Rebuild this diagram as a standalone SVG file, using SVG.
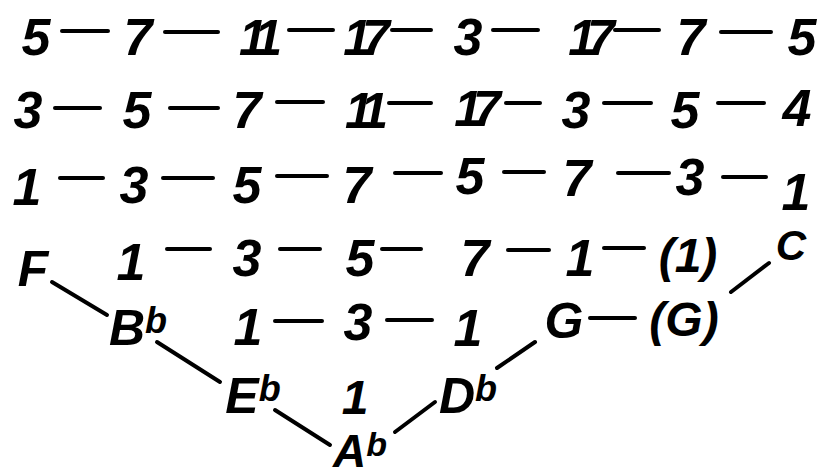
<svg xmlns="http://www.w3.org/2000/svg" width="822" height="476" viewBox="0 0 822 476">
<style>
text{font-family:"Liberation Sans","DejaVu Sans",sans-serif;font-weight:bold;font-style:italic;font-size:52px;fill:#000;text-anchor:middle}
.two{letter-spacing:-9px;font-size:50px}
.let{font-size:50px}
.sup{font-size:36px}
.par{font-size:48px}
line{stroke:#000;stroke-width:4;stroke-linecap:round}
</style>
<rect width="822" height="476" fill="#fff"/>
<g id="connectors">
<line x1="62" y1="31" x2="108" y2="31"/><line x1="165" y1="32" x2="218" y2="32"/><line x1="289" y1="30" x2="333" y2="30"/><line x1="392" y1="30" x2="431" y2="30"/><line x1="493" y1="30" x2="538" y2="30"/><line x1="615" y1="30" x2="659" y2="30"/><line x1="721" y1="32" x2="771" y2="32"/>
<line x1="55" y1="108" x2="100" y2="108"/><line x1="170" y1="108" x2="218" y2="108"/><line x1="277" y1="102" x2="323" y2="102"/><line x1="389" y1="103" x2="431" y2="103"/><line x1="506" y1="103" x2="540" y2="103"/><line x1="604" y1="103" x2="651" y2="103"/><line x1="718" y1="103" x2="764" y2="103"/>
<line x1="60" y1="178" x2="103" y2="178"/><line x1="163" y1="178" x2="213" y2="178"/><line x1="277" y1="176" x2="327" y2="176"/><line x1="395" y1="173" x2="441" y2="173"/><line x1="504" y1="172" x2="544" y2="172"/><line x1="618" y1="173" x2="669" y2="173"/><line x1="723" y1="177" x2="766" y2="177"/>
<line x1="167" y1="249" x2="210" y2="249"/><line x1="280" y1="249" x2="320" y2="249"/><line x1="382" y1="249" x2="421" y2="249"/><line x1="508" y1="250" x2="549" y2="250"/><line x1="604" y1="248" x2="644" y2="248"/>
<line x1="275" y1="321" x2="322" y2="321"/><line x1="387" y1="320" x2="432" y2="320"/><line x1="590" y1="318" x2="635" y2="318"/>
<line x1="52" y1="282" x2="107" y2="315"/><line x1="157" y1="342" x2="220" y2="382"/><line x1="275" y1="410" x2="330" y2="445"/><line x1="395" y1="432" x2="435" y2="402"/><line x1="497" y1="368" x2="535" y2="342"/><line x1="731" y1="292" x2="769" y2="263"/>
</g>
<g id="r1c1"><text x="36" y="55">5</text></g>
<g id="r1c2"><text x="138" y="55">7</text></g>
<g id="r1c3"><text class="two" x="256" y="55">11</text></g>
<g id="r1c4"><text class="two" x="362" y="55">17</text></g>
<g id="r1c5"><text x="468" y="55">3</text></g>
<g id="r1c6"><text class="two" x="587" y="55">17</text></g>
<g id="r1c7"><text x="691" y="55">7</text></g>
<g id="r1c8"><text x="802" y="55">5</text></g>
<g id="r2c1"><text x="28" y="128">3</text></g>
<g id="r2c2"><text x="137" y="128">5</text></g>
<g id="r2c3"><text x="247" y="128">7</text></g>
<g id="r2c4"><text class="two" x="362" y="128">11</text></g>
<g id="r2c5"><text class="two" x="473" y="126">17</text></g>
<g id="r2c6"><text x="576" y="128">3</text></g>
<g id="r2c7"><text x="685" y="128">5</text></g>
<g id="r2c8"><text x="797" y="126">4</text></g>
<g id="r3c1"><text x="27" y="205">1</text></g>
<g id="r3c2"><text x="134" y="203">3</text></g>
<g id="r3c3"><text x="247" y="203">5</text></g>
<g id="r3c4"><text x="357" y="203">7</text></g>
<g id="r3c5"><text x="470" y="194">5</text></g>
<g id="r3c6"><text x="577" y="196">7</text></g>
<g id="r3c7"><text x="690" y="195">3</text></g>
<g id="r3c8"><text x="796" y="210">1</text></g>
<g id="F"><text class="let" x="33" y="286">F</text></g>
<g id="r4c2"><text x="131" y="280">1</text></g>
<g id="r4c3"><text x="247" y="276">3</text></g>
<g id="r4c4"><text x="360" y="276">5</text></g>
<g id="r4c5"><text x="475" y="276">7</text></g>
<g id="r4c6"><text x="580" y="276">1</text></g>
<g id="r4c7"><text class="par" x="688" y="272">(1)</text></g>
<g id="C"><text class="let" x="791" y="260" style="font-size:42px">C</text></g>
<g id="Bb"><text class="let" x="138" y="345">B<tspan class="sup" dy="-12">b</tspan></text></g>
<g id="r5c3"><text x="248" y="345">1</text></g>
<g id="r5c4"><text x="358" y="340">3</text></g>
<g id="r5c5"><text x="468" y="346">1</text></g>
<g id="G"><text class="let" x="564" y="338">G</text></g>
<g id="Gp"><text class="par" x="684" y="336">(G)</text></g>
<g id="Eb"><text class="let" x="253" y="413">E<tspan class="sup" dy="-12">b</tspan></text></g>
<g id="r6c4"><text x="355" y="414" style="font-size:48px">1</text></g>
<g id="Db"><text class="let" x="468" y="413">D<tspan class="sup" dy="-12">b</tspan></text></g>
<g id="Ab"><text class="let" x="360" y="467" style="font-size:46px">A<tspan class="sup" dy="-11" style="font-size:34px">b</tspan></text></g>
</svg>
